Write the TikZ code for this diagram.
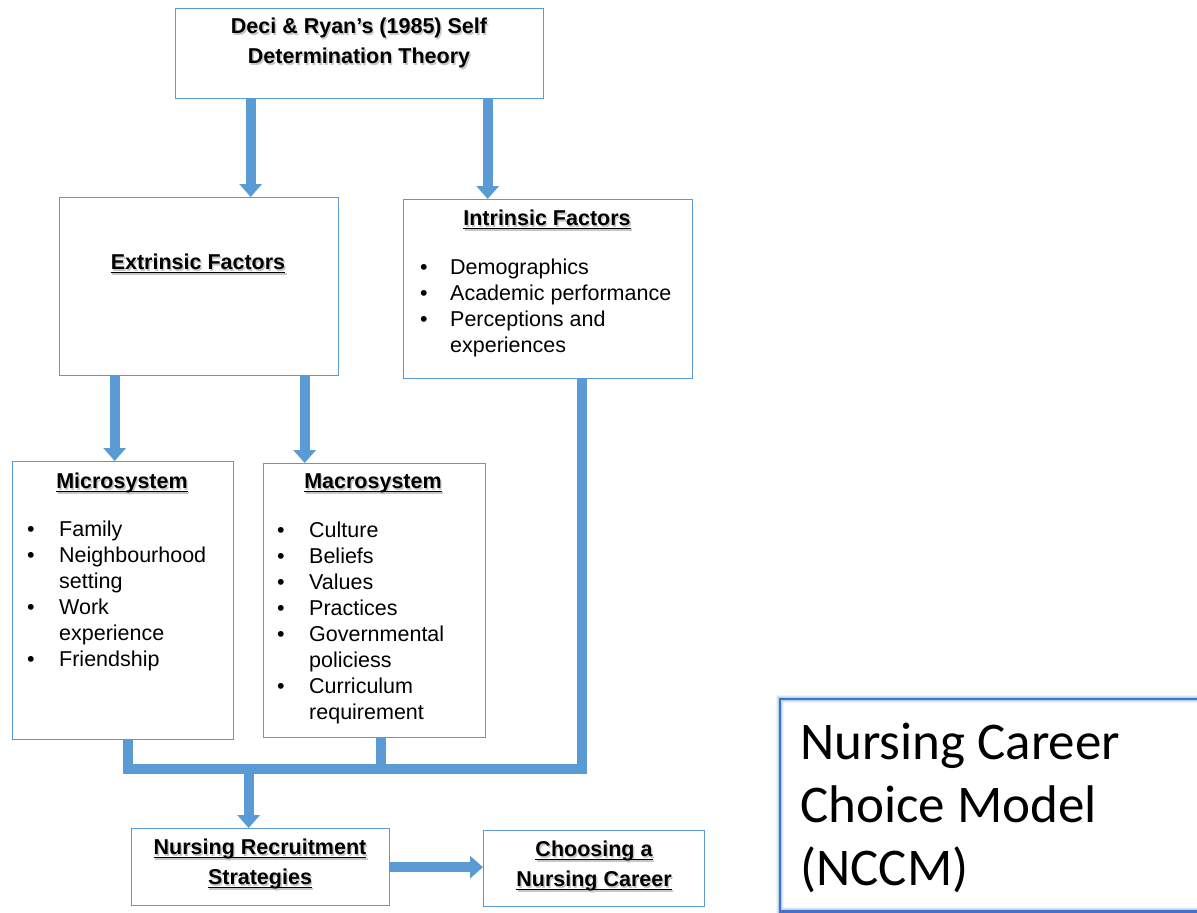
\documentclass[tikz,border=0pt]{standalone}
\usepackage{fontspec}
\setmainfont{Liberation Sans}
\newfontfamily\calibrifont{Carlito}
\usetikzlibrary{arrows.meta,positioning,calc}
\definecolor{boxblue}{RGB}{91,155,213}
\definecolor{rimblue}{RGB}{68,114,196}
\newcommand{\hdsize}{\fontsize{21.5}{30}\selectfont}
\newcommand{\bodysize}{\fontsize{21.5}{26}\selectfont}
% underline sitting just below the baseline
\newlength{\ulwd}
\newcommand{\hdline}[1]{\settowidth{\ulwd}{#1}\rlap{\rule[-3.4pt]{\ulwd}{1.6pt}}#1}
% bold heading with a soft grey shadow behind it
\newcommand{\hdnode}[3]{%
  \node[heading, text=black!22] at ([shift={(1.4,1.4)}]#2) {#3};
  \node[heading] (#1) at (#2) {#3};
}
\tikzset{
  panel/.style={draw=boxblue, line width=1.3pt, fill=white, anchor=north west, inner sep=0pt},
  heading/.style={font=\hdsize\bfseries, align=center, anchor=north, inner sep=0pt},
  listtxt/.style={font=\bodysize, anchor=north west, inner sep=0pt},
  flow/.style={draw=boxblue, line width=10pt, -{Triangle[width=22pt,length=13pt]}},
  joinln/.style={draw=boxblue, line width=10pt, line join=miter},
}

\begin{document}
\begin{tikzpicture}[x=1pt, y=-1pt]
  \useasboundingbox (0,0) rectangle (1197,913);
  % boxes
  \node[panel, minimum width=368pt, minimum height=90pt] (theory) at (175,8) {};
  \node[panel, minimum width=279pt, minimum height=178pt] (extr) at (59,197) {};
  \node[panel, minimum width=289pt, minimum height=179pt] (intr) at (403,199) {};
  \node[panel, minimum width=221pt, minimum height=278pt] (micro) at (12,461) {};
  \node[panel, minimum width=222pt, minimum height=274pt] (macro) at (263,463) {};
  \node[panel, minimum width=258pt, minimum height=77pt] (recruit) at (131,828) {};
  \node[panel, minimum width=221pt, minimum height=76pt] (choose) at (483,830) {};

  % headings
  \hdnode{theorytxt}{359,18}{Deci \& Ryan’s (1985) Self\\Determination Theory}
  \hdnode{extrtxt}{198,254}{\hdline{Extrinsic Factors}}
  \hdnode{intrtxt}{547,210}{\hdline{Intrinsic Factors}}
  \hdnode{microtxt}{122,473}{\hdline{Microsystem}}
  \hdnode{macrotxt}{373,474}{\hdline{Macrosystem}}
  \hdnode{recruittxt}{260,839}{\hdline{Nursing Recruitment}\\\hdline{Strategies}}
  \hdnode{choosetxt}{594,841}{\hdline{Choosing a}\\\hdline{Nursing Career}}

  % bullet lists
  \node[listtxt] (intrlist) at (420,256) {\begin{tabular}{@{}p{30pt}@{}l@{}}
    \textbullet & Demographics\\
    \textbullet & Academic performance\\
    \textbullet & Perceptions and\\
                & experiences
  \end{tabular}};
  \node[listtxt] (microlist) at (27,518) {\begin{tabular}{@{}p{32pt}@{}l@{}}
    \textbullet & Family\\
    \textbullet & Neighbourhood\\
                & setting\\
    \textbullet & Work\\
                & experience\\
    \textbullet & Friendship
  \end{tabular}};
  \node[listtxt] (macrolist) at (277,519) {\begin{tabular}{@{}p{32pt}@{}l@{}}
    \textbullet & Culture\\
    \textbullet & Beliefs\\
    \textbullet & Values\\
    \textbullet & Practices\\
    \textbullet & Governmental\\
                & policiess\\
    \textbullet & Curriculum\\
                & requirement
  \end{tabular}};

  % arrows between the boxes
  \path ([xshift=-109pt]theory.south) coordinate (t1)
        ([xshift=128pt]theory.south) coordinate (t2)
        ([xshift=-84.5pt]extr.south) coordinate (e1)
        ([xshift=105.5pt]extr.south) coordinate (e2);
  \draw[flow] (t1) -- (t1 |- extr.north);
  \draw[flow] (t2) -- (t2 |- intr.north);
  \draw[flow] (e1) -- (e1 |- micro.north);
  \draw[flow] (e2) -- (e2 |- macro.north);

  % collecting bar
  \coordinate (bar) at (0,769);
  \draw[joinln] ([xshift=4.5pt]micro.south) -- ([xshift=4.5pt]micro.south |- bar)
    -| ([xshift=33.5pt]intr.south);
  \draw[joinln] ([xshift=6pt]macro.south) -- ([xshift=6pt]macro.south |- bar);
  \path ([xshift=-12pt]recruit.north) coordinate (r1);
  \draw[flow] (r1 |- bar) -- (r1);
  \draw[flow] (recruit.east) -- (recruit.east -| choose.west);

  % model name
  \node[anchor=north west, inner sep=0pt, minimum width=430pt, minimum height=212pt] (nccm) at (780,699) {};
  \foreach \w/\o in {8/0.10, 6/0.16, 4.5/0.28} {
    \draw[boxblue, line width=\w pt, opacity=\o] (nccm.south west) rectangle (nccm.north east);
  }
  \draw[rimblue, line width=2.2pt] (nccm.south west) rectangle (nccm.north east);
  \node[anchor=north west, inner sep=0pt, align=left, font=\calibrifont\fontsize{53}{63}\selectfont]
    (nccmtxt) at (800,723) {Nursing Career\\Choice Model\\(NCCM)};
\end{tikzpicture}
\end{document}
